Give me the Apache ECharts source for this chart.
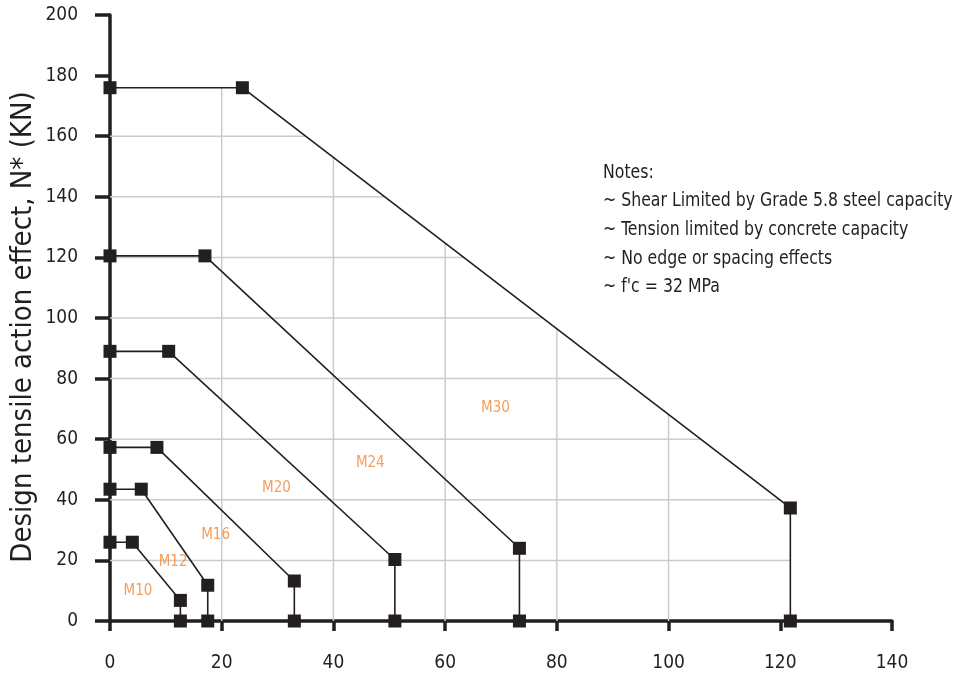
<!DOCTYPE html>
<html>
<head>
<meta charset="utf-8">
<script src="https://cdn.jsdelivr.net/npm/echarts@6/dist/echarts.min.js"></script>
<style>
  html, body { margin: 0; padding: 0; background: #fff; }
  #chart { width: 957px; height: 677px; }
</style>
</head>
<body>
<div id="chart"></div>
<script>
// bolt envelopes: [shear V*, tension N*]
var m10 = [[0, 26], [4, 26], [12.6, 6.8], [12.6, 0]]
var m12 = [[0, 43.5], [5.6, 43.5], [17.5, 11.8], [17.5, 0]]
var m16 = [[0, 57.3], [8.4, 57.3], [33, 13.2], [33, 0]]
var m20 = [[0, 89], [10.5, 89], [51, 20.3], [51, 0]]
var m24 = [[0, 120.5], [17, 120.5], [73.3, 24], [73.3, 0]]
var m30 = [[0, 176], [23.7, 176], [121.8, 37.3], [121.8, 0]]

var seriesNames = ['M10', 'M12', 'M16', 'M20', 'M24', 'M30']
var seriesData = [m10, m12, m16, m20, m24, m30]
// where the size labels sit, in axis units
var labelPos = [[5, 10], [11.3, 19.4], [18.9, 28.3], [29.8, 43.8], [46.6, 52], [69, 70.4]]

// grid lines only show inside the M30 envelope
var gridX = [20, 40, 60, 80, 100]
var gridY = [20, 40, 60, 80, 100, 120, 140, 160]

var yTitle = 'Design tensile action effect, N* (KN)'
var notes = [
  'Notes:',
  '~ Shear Limited by Grade 5.8 steel capacity',
  '~ Tension limited by concrete capacity',
  '~ No edge or spacing effects',
  "~ f'c = 32 MPa"
]

var ink = '#231f20'
var orange = '#f5852f'
var gridGrey = '#cccccc'
var font = "'Liberation Sans Narrow', 'DejaVu Sans Condensed', 'Roboto Condensed', sans-serif"

// top of the M30 envelope at a given x
function envTop(x) {
  for (var i = 0; i < m30.length - 1; i++) {
    var a = m30[i], b = m30[i + 1]
    if (x >= a[0] && x <= b[0] && b[0] !== a[0]) {
      return a[1] + (b[1] - a[1]) * (x - a[0]) / (b[0] - a[0])
    }
  }
  return 0
}
// right edge of the M30 envelope at a given y
function envRight(y) {
  for (var i = 0; i < m30.length - 1; i++) {
    var a = m30[i], b = m30[i + 1]
    if (y <= a[1] && y >= b[1] && a[1] !== b[1]) {
      return a[0] + (b[0] - a[0]) * (a[1] - y) / (a[1] - b[1])
    }
  }
  return m30[m30.length - 1][0]
}

var chart = echarts.init(document.getElementById('chart'))

var series = [{
  type: 'custom',
  silent: true,
  z: 1,
  data: [0],
  renderItem: function (params, api) {
    var children = []
    var style = { stroke: gridGrey, lineWidth: 1.5 }
    gridX.forEach(function (x) {
      var p0 = api.coord([x, 0])
      var p1 = api.coord([x, envTop(x)])
      children.push({ type: 'line', shape: { x1: p0[0], y1: p0[1], x2: p1[0], y2: p1[1] }, style: style })
    })
    gridY.forEach(function (y) {
      var p0 = api.coord([0, y])
      var p1 = api.coord([envRight(y), y])
      children.push({ type: 'line', shape: { x1: p0[0], y1: p0[1], x2: p1[0], y2: p1[1] }, style: style })
    })
    return { type: 'group', children: children }
  }
}]

seriesData.forEach(function (d, i) {
  series.push({
    name: seriesNames[i],
    type: 'line',
    data: d,
    z: 3,
    clip: false,
    symbol: 'rect',
    symbolSize: 13,
    itemStyle: { color: ink },
    lineStyle: { color: ink, width: 1.6 }
  })
})

series.push({
  type: 'scatter',
  symbolSize: 0,
  z: 4,
  silent: true,
  data: labelPos.map(function (p, i) { return { value: p, name: seriesNames[i] } }),
  label: {
    show: true,
    position: 'inside',
    formatter: '{b}',
    color: orange,
    fontSize: 15,
    fontFamily: font
  }
})

chart.setOption({
  animation: false,
  backgroundColor: '#fff',
  grid: { left: 110, right: 65, top: 15, bottom: 56, outerBoundsMode: 'none', containLabel: false },
  xAxis: {
    type: 'value',
    min: 0,
    max: 140,
    interval: 20,
    axisLine: { onZero: false, lineStyle: { color: ink, width: 3.5 } },
    axisTick: { length: 10, lineStyle: { color: ink, width: 3.5 } },
    axisLabel: { color: ink, fontSize: 19, fontFamily: font, margin: 33 },
    splitLine: { show: false }
  },
  yAxis: {
    type: 'value',
    min: 0,
    max: 200,
    interval: 20,
    axisLine: { onZero: false, lineStyle: { color: ink, width: 3.5 } },
    axisTick: { length: 15, lineStyle: { color: ink, width: 3.5 } },
    axisLabel: { color: ink, fontSize: 19, fontFamily: font, margin: 32 },
    splitLine: { show: false }
  },
  graphic: [{
    type: 'text',
    x: 23,
    y: 327,
    rotation: Math.PI / 2,
    style: {
      text: yTitle,
      fill: ink,
      fontSize: 29,
      fontFamily: font,
      align: 'center',
      verticalAlign: 'middle'
    }
  }, {
    type: 'text',
    x: 603,
    y: 158,
    scaleX: 0.875,
    style: {
      text: notes.join('\n'),
      fill: ink,
      fontSize: 20,
      lineHeight: 28.7,
      fontFamily: font
    }
  }],
  series: series
})
</script>
</body>
</html>
